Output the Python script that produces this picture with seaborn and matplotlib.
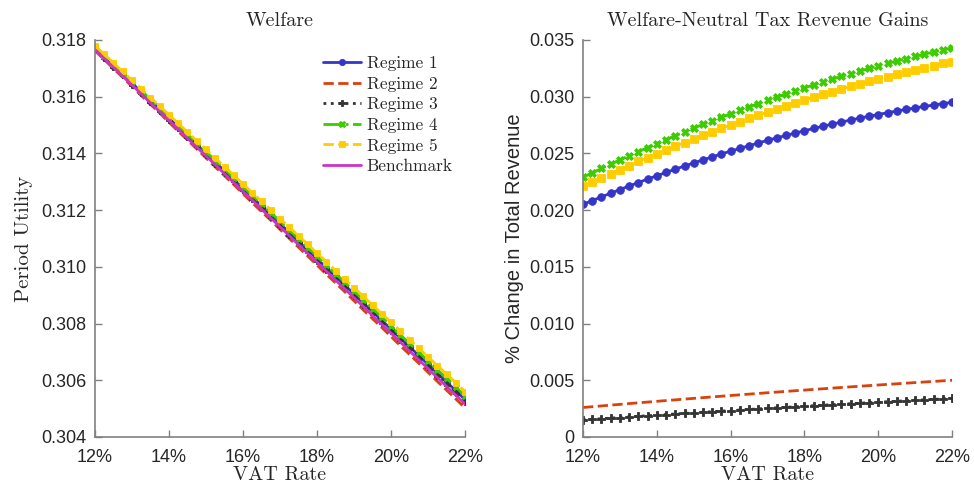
import numpy as np
import pandas as pd
import matplotlib
matplotlib.use('Agg')
import matplotlib.pyplot as plt
import seaborn as sns

# VAT grid (percent) and the series
vat = [12.00, 12.25, 12.50, 12.75, 13.00, 13.25, 13.50, 13.75, 14.00, 14.25,
       14.50, 14.75, 15.00, 15.25, 15.50, 15.75, 16.00, 16.25, 16.50, 16.75,
       17.00, 17.25, 17.50, 17.75, 18.00, 18.25, 18.50, 18.75, 19.00, 19.25,
       19.50, 19.75, 20.00, 20.25, 20.50, 20.75, 21.00, 21.25, 21.50, 21.75,
       22.00]

# Welfare (period utility)
u_r1 = [.31772, .31741, .31710, .31679, .31648, .31617, .31586, .31555, .31524, .31493,
        .31462, .31431, .31400, .31369, .31338, .31307, .31276, .31245, .31214, .31183,
        .31152, .31121, .31090, .31059, .31028, .30997, .30966, .30935, .30904, .30873,
        .30842, .30811, .30780, .30749, .30718, .30687, .30656, .30625, .30594, .30563,
        .30532]
u_r2 = [.31762, .31731, .31699, .31668, .31636, .31604, .31573, .31542, .31510, .31478,
        .31447, .31416, .31384, .31352, .31321, .31290, .31258, .31226, .31195, .31164,
        .31132, .31100, .31069, .31038, .31006, .30974, .30943, .30912, .30880, .30848,
        .30817, .30786, .30754, .30722, .30691, .30660, .30628, .30596, .30565, .30534,
        .30502]
u_r3 = [.31768, .31737, .31706, .31675, .31643, .31612, .31581, .31550, .31519, .31488,
        .31457, .31426, .31394, .31363, .31332, .31301, .31270, .31239, .31208, .31177,
        .31145, .31114, .31083, .31052, .31021, .30990, .30959, .30928, .30896, .30865,
        .30834, .30803, .30772, .30741, .30710, .30679, .30647, .30616, .30585, .30554,
        .30523]
u_r4 = [.31775, .31744, .31714, .31683, .31652, .31621, .31591, .31560, .31529, .31498,
        .31468, .31437, .31406, .31375, .31345, .31314, .31283, .31252, .31222, .31191,
        .31160, .31129, .31099, .31068, .31037, .31006, .30976, .30945, .30914, .30883,
        .30853, .30822, .30791, .30760, .30730, .30699, .30668, .30637, .30607, .30576,
        .30545]
u_r5 = [.31780, .31750, .31719, .31689, .31658, .31628, .31597, .31567, .31536, .31506,
        .31475, .31445, .31414, .31384, .31353, .31323, .31292, .31262, .31231, .31201,
        .31170, .31140, .31109, .31079, .31048, .31018, .30987, .30957, .30926, .30896,
        .30865, .30835, .30804, .30774, .30743, .30713, .30682, .30652, .30621, .30591,
        .30560]
u_bench = [.31766, .31735, .31703, .31672, .31641, .31610, .31578, .31547, .31516, .31485,
           .31453, .31422, .31391, .31360, .31328, .31297, .31266, .31235, .31203, .31172,
           .31141, .31110, .31078, .31047, .31016, .30985, .30953, .30922, .30891, .30860,
           .30828, .30797, .30766, .30735, .30703, .30672, .30641, .30610, .30578, .30547,
           .30516]

# Welfare-neutral revenue gains
g_r1 = [.02050, .02084, .02117, .02149, .02181, .02213, .02243, .02274, .02303, .02332,
        .02361, .02389, .02416, .02443, .02469, .02495, .02520, .02544, .02568, .02592,
        .02615, .02637, .02658, .02679, .02700, .02720, .02739, .02758, .02776, .02794,
        .02811, .02827, .02843, .02859, .02873, .02888, .02901, .02914, .02927, .02939,
        .02950]
g_r2 = [.002600, .002670, .002739, .002808, .002876, .002944, .003011, .003078, .003144, .003210,
        .003275, .003340, .003404, .003468, .003531, .003594, .003656, .003718, .003779, .003840,
        .003900, .003960, .004019, .004078, .004136, .004194, .004251, .004308, .004364, .004420,
        .004475, .004530, .004584, .004638, .004691, .004744, .004796, .004848, .004899, .004950,
        .005000]
g_r3 = [.001500, .001555, .001609, .001663, .001717, .001770, .001823, .001876, .001928, .001980,
        .002031, .002082, .002133, .002183, .002233, .002283, .002332, .002381, .002429, .002477,
        .002525, .002572, .002619, .002666, .002712, .002758, .002803, .002848, .002893, .002937,
        .002981, .003025, .003068, .003111, .003153, .003195, .003237, .003278, .003319, .003360,
        .003400]
g_r4 = [.02290, .02329, .02368, .02406, .02443, .02480, .02516, .02552, .02587, .02622,
        .02656, .02690, .02723, .02756, .02788, .02819, .02850, .02880, .02910, .02940,
        .02968, .02997, .03024, .03051, .03078, .03104, .03130, .03155, .03179, .03203,
        .03226, .03249, .03271, .03293, .03314, .03335, .03355, .03375, .03394, .03412,
        .03430]
g_r5 = [.02210, .02248, .02285, .02322, .02358, .02393, .02429, .02463, .02497, .02531,
        .02564, .02596, .02628, .02660, .02691, .02721, .02751, .02780, .02809, .02837,
        .02865, .02892, .02919, .02945, .02971, .02996, .03021, .03045, .03068, .03091,
        .03114, .03136, .03157, .03178, .03199, .03218, .03238, .03257, .03275, .03293,
        .03310]

x_ticks = [12, 14, 16, 18, 20, 22]
x_ticklabels = ['12%', '14%', '16%', '18%', '20%', '22%']
u_ticks = [0.304, 0.306, 0.308, 0.310, 0.312, 0.314, 0.316, 0.318]
g_ticks = [0, 0.005, 0.010, 0.015, 0.020, 0.025, 0.030, 0.035]
g_ticklabels = ['0', '0.005', '0.010', '0.015', '0.020', '0.025', '0.030', '0.035']


sns.set_style('white')
plt.rcParams['font.family'] = ['Liberation Sans', 'DejaVu Sans']

SERIF = 'cmr10'
AX_COLOR = '#808080'
TXT_COLOR = '#262626'

# style per series: colour, linestyle, marker, marker size (left, right)
styles = {
    'Regime 1': ('#3535c8', '-', 'o', 4.5, 5.5),
    'Regime 2': ('#d9410f', '--', None, 0, 0),
    'Regime 3': ('#333333', ':', 'P', 5, 6),
    'Regime 4': ('#3dcc00', '-.', 'X', 5, 6),
    'Regime 5': ('#ffcc00', '--', 's', 4.5, 5.5),
    'Benchmark': ('#cc33cc', '-', None, 0, 0),
}

fig = plt.figure(figsize=(9.74, 4.87), dpi=100)
ax1 = fig.add_axes([0.0975, 0.1027, 0.380, 0.8152])
ax2 = fig.add_axes([0.5986, 0.1027, 0.3789, 0.8152])

left = {'Regime 1': u_r1, 'Regime 2': u_r2, 'Regime 3': u_r3,
        'Regime 4': u_r4, 'Regime 5': u_r5, 'Benchmark': u_bench}
right = {'Regime 1': g_r1, 'Regime 2': g_r2, 'Regime 3': g_r3,
         'Regime 4': g_r4, 'Regime 5': g_r5}


def draw(ax, series, which):
    for name, vals in series.items():
        color, ls, mk, ms_l, ms_r = styles[name]
        ms = ms_l if which == 0 else ms_r
        df = pd.DataFrame({'vat': vat, 'val': vals})
        kw = dict(color=color, linestyle=ls, linewidth=2, label=name)
        if mk is not None:
            kw.update(marker=mk, markersize=ms, markeredgewidth=0.6,
                      markeredgecolor=color, markerfacecolor=color)
        sns.lineplot(data=df, x='vat', y='val', ax=ax, **kw)


draw(ax1, left, 0)
draw(ax2, right, 1)

for ax in (ax1, ax2):
    ax.set_xlim(12, 22)
    ax.set_xticks(x_ticks)
    ax.set_xticklabels(x_ticklabels)
    sns.despine(ax=ax)
    for s in ('left', 'bottom'):
        ax.spines[s].set_color(AX_COLOR)
        ax.spines[s].set_linewidth(1.2)
    ax.tick_params(axis='both', direction='in', colors=AX_COLOR,
                   labelcolor=TXT_COLOR, labelsize=13, length=5, width=1,
                   pad=6, left=True, bottom=True)
    ax.tick_params(axis='x', pad=9)
    ax.set_xlabel('VAT Rate', fontfamily=SERIF, fontsize=14.5,
                  color=TXT_COLOR, labelpad=0)
    ax.grid(False)

ax1.set_ylim(0.304, 0.318)
ax1.set_yticks(u_ticks)
ax1.set_yticklabels(['%.3f' % t for t in u_ticks])
ax1.set_ylabel('Period Utility', fontfamily=SERIF, fontsize=15, color=TXT_COLOR,
               labelpad=6)
ax1.set_title('Welfare', fontfamily=SERIF, fontsize=14.5, color=TXT_COLOR, pad=10)

ax2.set_ylim(0, 0.035)
ax2.set_yticks(g_ticks)
ax2.set_yticklabels(g_ticklabels)
ax2.set_ylabel('% Change in Total Revenue', fontsize=14.5, color=TXT_COLOR)
ax2.set_title('Welfare-Neutral Tax Revenue Gains', fontfamily=SERIF,
              fontsize=14.5, color=TXT_COLOR, pad=10)

leg = ax1.legend(loc='upper right', bbox_to_anchor=(0.985, 0.977), frameon=False,
                 prop={'family': SERIF, 'size': 12.5}, handlelength=2.2,
                 handletextpad=0.3, labelspacing=0.3, borderaxespad=0)
for t in leg.get_texts():
    t.set_color(TXT_COLOR)
if ax2.get_legend() is not None:
    ax2.get_legend().remove()

fig.savefig('out.png', dpi=100)
